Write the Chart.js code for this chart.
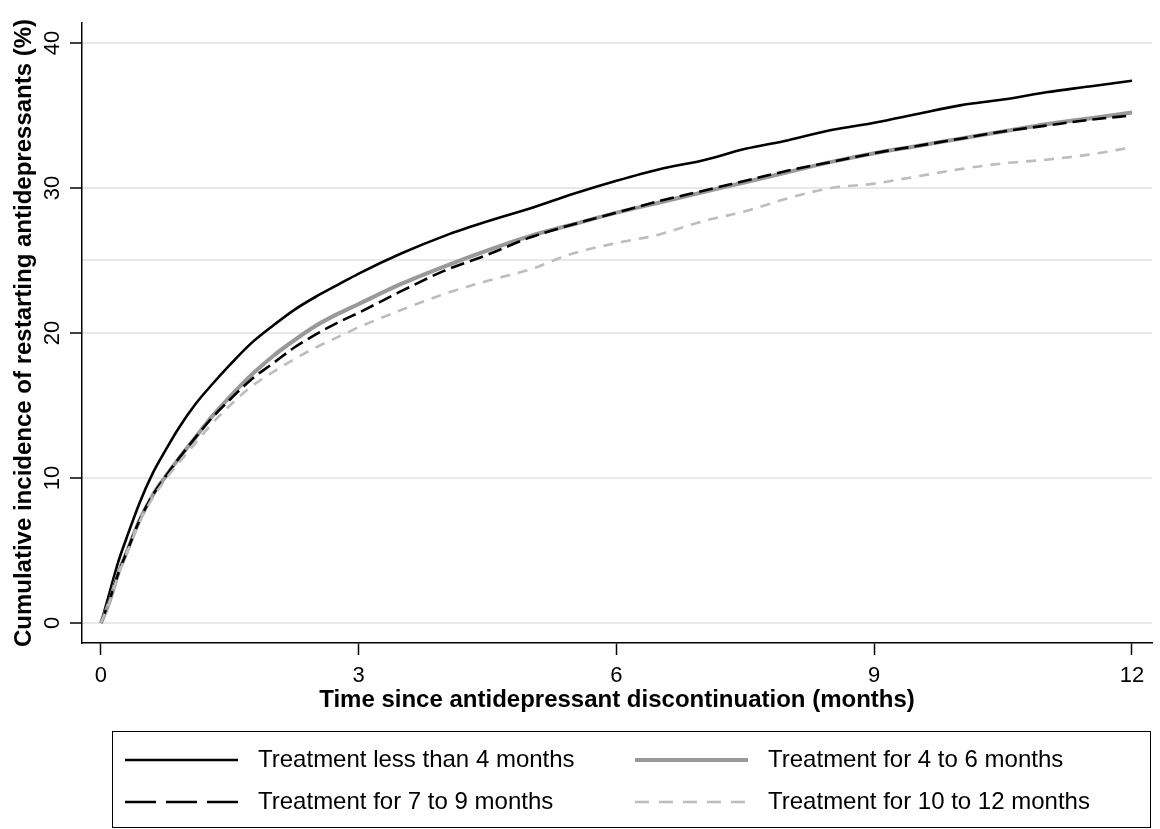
<!DOCTYPE html>
<html><head><meta charset="utf-8">
<script src="https://cdn.jsdelivr.net/npm/chart.js@4.4.1/dist/chart.umd.min.js"></script>
<style>html,body{margin:0;padding:0;background:#fff;}canvas{display:block;}</style>
</head><body>
<canvas id="c" width="1160" height="829"></canvas>
<script>
const months = [0,0.1,0.2,0.3,0.45,0.6,0.75,0.9,1.1,1.3,1.5,1.75,2,2.25,2.5,2.75,3,3.5,4,4.5,5,5.5,6,6.5,7,7.5,8,8.5,9,9.5,10,10.5,11,11.5,12];
const lessThan4 = [0,2.1,4.2,5.9,8.3,10.3,11.9,13.4,15.1,16.5,17.8,19.3,20.5,21.6,22.5,23.3,24.1,25.5,26.7,27.7,28.6,29.6,30.5,31.3,31.9,32.7,33.3,34.0,34.5,35.1,35.7,36.1,36.6,37.0,37.4];
const fourToSix = [0,1.5,3.4,4.9,7.1,8.8,10.1,11.3,12.8,14.3,15.6,17.1,18.4,19.5,20.5,21.3,22.0,23.4,24.6,25.7,26.7,27.5,28.3,29.0,29.7,30.4,31.1,31.8,32.4,32.9,33.4,33.9,34.4,34.8,35.2];
const sevenToNine = [0,1.6,3.4,4.9,7.1,8.8,10.1,11.3,12.8,14.2,15.4,16.8,17.9,19.0,19.9,20.7,21.4,22.9,24.3,25.4,26.6,27.5,28.3,29.1,29.8,30.5,31.2,31.8,32.4,32.9,33.4,33.9,34.3,34.7,35.0];
const tenToTwelve = [0,1.5,3.3,4.8,7.0,8.6,9.9,11.0,12.4,13.8,15.0,16.3,17.3,18.2,19.0,19.7,20.4,21.6,22.7,23.6,24.4,25.5,26.2,26.8,27.7,28.4,29.3,30.0,30.3,30.8,31.3,31.7,31.95,32.3,32.8];
const seriesLabels = ['Treatment less than 4 months','Treatment for 4 to 6 months','Treatment for 7 to 9 months','Treatment for 10 to 12 months'];
const xTicks = [0,3,6,9,12];
const yGridValues = [0,10,20,25,30,40];
const yLabeledTicks = [0,10,20,30,40];

const FONT = '"Liberation Sans", Arial, Helvetica, sans-serif';
const toXY = arr => arr.map((v,i)=>({x:months[i], y:v}));

const boxLegend = {
  id: 'boxLegend',
  afterDraw(chart) {
    const ctx = chart.ctx;
    ctx.save();
    ctx.strokeStyle = '#000'; ctx.lineWidth = 1;
    ctx.setLineDash([]);
    ctx.strokeRect(112.5, 731.5, 1038, 96);
    const cols = [125, 635], rows = [760, 802];
    chart.data.datasets.forEach((d, i) => {
      const cx = cols[i % 2], cy = rows[Math.floor(i / 2)];
      ctx.beginPath();
      ctx.setLineDash(d.legendDash || []);
      ctx.strokeStyle = d.borderColor; ctx.lineWidth = d.borderWidth; ctx.lineCap = 'butt';
      ctx.moveTo(cx, cy); ctx.lineTo(cx + 113, cy); ctx.stroke();
      ctx.setLineDash([]);
      ctx.fillStyle = '#000'; ctx.font = '24px ' + FONT; ctx.textBaseline = 'middle'; ctx.textAlign = 'left';
      ctx.fillText(d.label, cx + 133, cy);
    });
    ctx.restore();
  }
};

new Chart(document.getElementById('c'), {
  type: 'line',
  data: {
    datasets: [
      {label: seriesLabels[0], data: toXY(lessThan4), borderColor: '#000000', borderWidth: 2.6, order: 3, legendDash: []},
      {label: seriesLabels[1], data: toXY(fourToSix), borderColor: '#999999', borderWidth: 4, order: 2, legendDash: []},
      {label: seriesLabels[2], data: toXY(sevenToNine), borderColor: '#000000', borderWidth: 2.6, borderDash: [14, 6], order: 1, legendDash: [31, 10]},
      {label: seriesLabels[3], data: toXY(tenToTwelve), borderColor: '#bdbdbd', borderWidth: 2.6, borderDash: [10, 8], order: 0, legendDash: [14, 10]}
    ]
  },
  options: {
    responsive: false,
    animation: false,
    devicePixelRatio: 1,
    layout: {padding: {left: 0, top: 23, right: 8, bottom: 110}},
    elements: {point: {radius: 0}, line: {cubicInterpolationMode: 'monotone', fill: false}},
    plugins: {legend: {display: false}, tooltip: {enabled: false}},
    scales: {
      x: {
        type: 'linear', min: -0.221, max: 12.233,
        afterBuildTicks: s => { s.ticks = xTicks.map(v => ({value: v})); },
        afterFit: s => { s.height = 76; },
        grid: {drawOnChartArea: false, drawTicks: true, tickLength: 12, tickColor: '#000', tickWidth: 1.5},
        border: {display: true, color: '#000', width: 1.5},
        ticks: {color: '#000', font: {family: FONT, size: 22}, padding: 8, autoSkip: false, maxRotation: 0, minRotation: 0},
        title: {display: true, text: 'Time since antidepressant discontinuation (months)', color: '#000', font: {family: FONT, size: 24, weight: 'bold'}, padding: {top: 0, bottom: 4}}
      },
      y: {
        type: 'linear', min: -1.379, max: 41.379,
        afterBuildTicks: s => { s.ticks = yGridValues.map(v => ({value: v})); },
        afterFit: s => { s.width = 82; },
        grid: {drawOnChartArea: true, color: '#e8e8e8', lineWidth: 2, drawTicks: true, tickLength: 12,
               tickColor: c => yLabeledTicks.includes(c.tick && c.tick.value) ? '#000' : 'rgba(0,0,0,0)', tickWidth: 1.5},
        border: {display: true, color: '#000', width: 1.5},
        ticks: {color: '#000', font: {family: FONT, size: 22}, padding: 5, autoSkip: false, minRotation: 90, maxRotation: 90, crossAlign: 'center',
                callback: v => yLabeledTicks.includes(v) ? String(v) : ''},
        title: {display: true, text: 'Cumulative incidence of restarting antidepressants (%)', color: '#000', font: {family: FONT, size: 24, weight: 'bold'}, padding: {top: 10, bottom: 0}}
      }
    }
  },
  plugins: [boxLegend]
});
</script>
</body></html>
